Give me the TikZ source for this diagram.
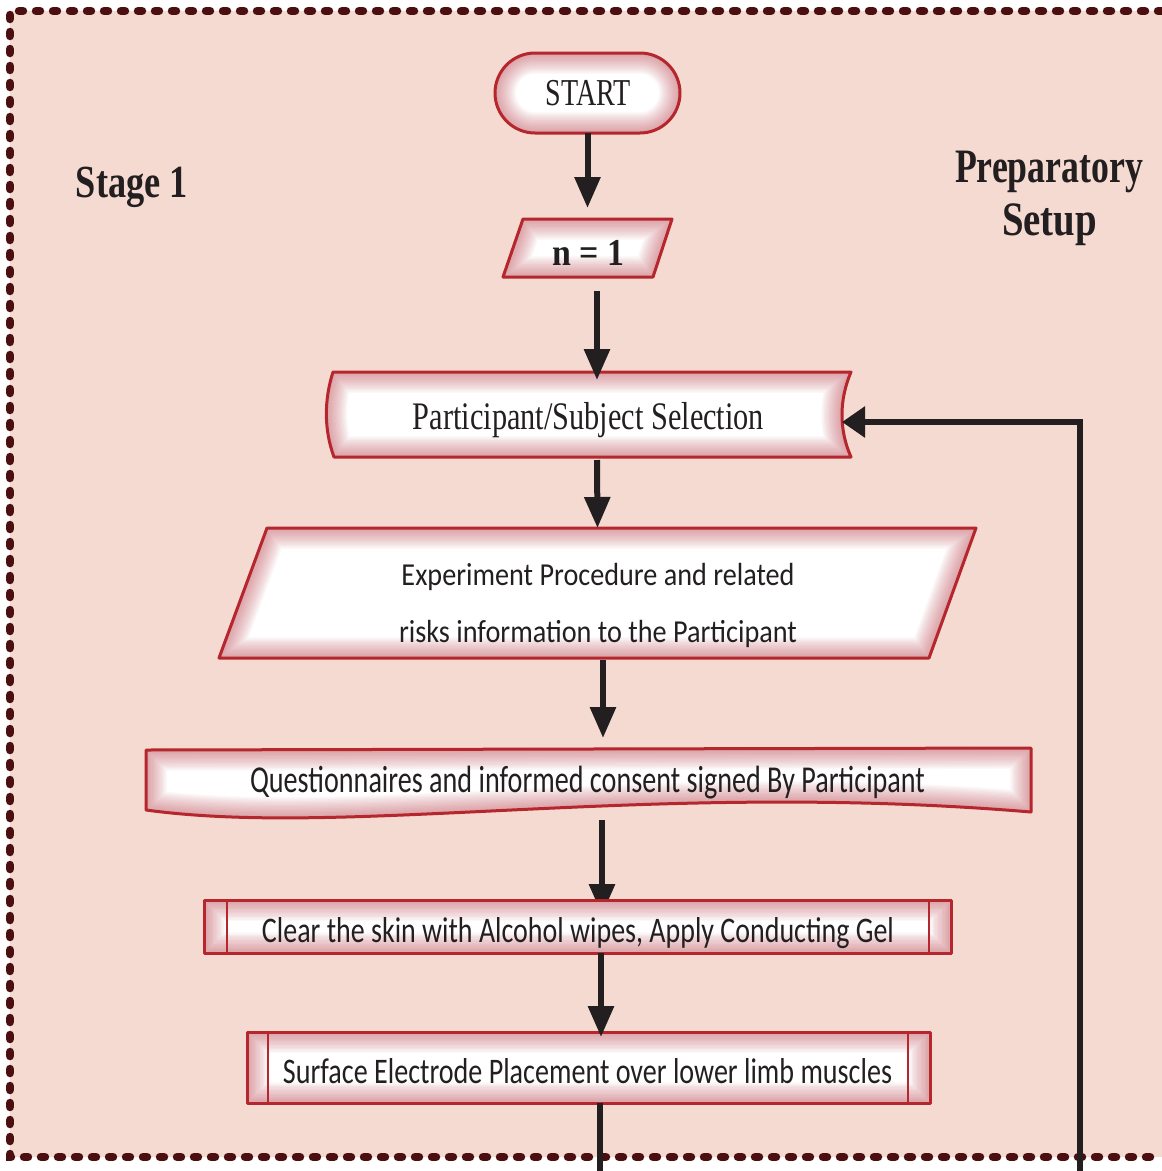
\documentclass[tikz,border=0pt]{standalone}
\usepackage{graphicx}
\usepackage{fontspec}
\setmainfont{Liberation Serif}
\newfontfamily\bodysans{Carlito}
\usetikzlibrary{arrows.meta}

\definecolor{pagepink}{RGB}{245,218,210}
\definecolor{framedot}{RGB}{75,15,16}
\definecolor{boxedge}{RGB}{181,38,45}
\definecolor{boxglow}{RGB}{198,86,96}
\definecolor{ink}{RGB}{35,31,32}

\pgfdeclarelayer{back}
\pgfdeclarelayer{under}
\pgfdeclarelayer{shapes}
\pgfsetlayers{back,under,shapes,main}

% white box with a soft reddish inner glow and a red outline
\newcommand\glowbox[1]{%
  \fill[white] #1;
  \begin{scope}
    \clip #1;
    \foreach \i in {1,...,16}
      {\draw[boxglow, line width=\i*2.6pt, opacity=0.042] #1;}
  \end{scope}
  \draw[boxedge, line width=3pt, line join=round] #1;
}
% set a label to a given width, keeping its height
\newcommand\fitw[2]{\resizebox{#1}{\height}{#2}}

\begin{document}
\begin{tikzpicture}[x=1pt,y=-1pt,
  slot/.style={draw=none, inner sep=0pt, outer sep=0pt},
  lbl/.style={inner sep=0pt, outer sep=0pt, text=ink, anchor=base},
  flow/.style={draw=ink, line width=6pt, -{Triangle[length=31pt,width=25pt]}},
  flowfb/.style={draw=ink, line width=6pt, -{Triangle[length=23pt,width=30pt]}},
  wire/.style={draw=ink, line width=6pt},
  divider/.style={draw=boxedge, line width=2.5pt}]

\useasboundingbox (0,0) rectangle (1162,1171);

% ---- shape slots (named, used by the connectors) ----
\node[slot, minimum width=185pt, minimum height=80pt]  (start) at (587.5,93) {};
\node[slot, minimum width=169pt, minimum height=58pt]  (n1)    at (587.5,248) {};
\node[slot, minimum width=525pt, minimum height=85pt]  (sel)   at (588.5,414.5) {};
\node[slot, minimum width=757pt, minimum height=130pt] (info)  at (597.5,593) {};
\node[slot, minimum width=885pt, minimum height=71pt]  (quest) at (588.5,783.5) {};
\node[slot, minimum width=747pt, minimum height=53pt]  (clean) at (577.5,926.5) {};
\node[slot, minimum width=683pt, minimum height=71pt]  (place) at (588.5,1067.5) {};
\coordinate (exit) at (599.5,1171);
\coordinate (loop) at (1080,1171);

% ---- page background and dotted frame ----
\begin{pgfonlayer}{back}
  \fill[white] (0,0) rectangle (1162,1171);
  \fill[pagepink] (10,11) rectangle (1162,1157);
  \draw[framedot, line width=8.5pt, line cap=round, dash pattern=on 4pt off 13pt]
    (1162,11) -- (10,11) -- (10,1157) -- (1162,1157);
\end{pgfonlayer}

% arrow that slips under the next box
\begin{pgfonlayer}{under}
  \draw[flow] ([xshift=13.5pt,yshift=-1pt]quest.south) -- ([xshift=24.5pt,yshift=-15pt]clean.north);
\end{pgfonlayer}

% ---- flowchart shapes ----
\begin{pgfonlayer}{shapes}
  \glowbox{[rounded corners=40pt] (start.north west) rectangle (start.south east)}
  \glowbox{(523,219) -- (672,219) -- (653,277) -- (503,277) -- cycle}
  \glowbox{(333,372) -- (851,372) .. controls (839,400) and (839,430) .. (851,457)
           -- (334,457) .. controls (324,430) and (324,400) .. (333,372) -- cycle}
  \glowbox{(267,528) -- (976,528) -- (929,658) -- (219,658) -- cycle}
  \glowbox{(146,750) -- (1031,748) -- (1031,812) .. controls (650,780) and (350,838) .. (146,810) -- cycle}
  \glowbox{(clean.north west) rectangle (clean.south east)}
  \draw[divider] ([xshift=23pt]clean.north west) -- ([xshift=23pt]clean.south west);
  \draw[divider] ([xshift=-22pt]clean.north east) -- ([xshift=-22pt]clean.south east);
  \glowbox{(place.north west) rectangle (place.south east)}
  \draw[divider] ([xshift=21pt]place.north west) -- ([xshift=21pt]place.south west);
  \draw[divider] ([xshift=-22pt]place.north east) -- ([xshift=-22pt]place.south east);
\end{pgfonlayer}

% ---- texts ----
\node[lbl] (stage) at (132,197)
  {\fontsize{46}{50}\selectfont\bfseries\fitw{112pt}{Stage 1}};
\node[lbl] (prep1) at (1049,182)
  {\fontsize{48}{52}\selectfont\bfseries\fitw{188pt}{Preparatory}};
\node[lbl] (prep2) at (1049.5,235)
  {\fontsize{48}{52}\selectfont\bfseries\fitw{95pt}{Setup}};

\node[lbl] (startt) at (588,105) {\fontsize{38}{40}\selectfont\fitw{85pt}{START}};
\node[lbl] (n1t) at (588.5,265) {\fontsize{38}{40}\selectfont\bfseries\fitw{72pt}{n = 1}};
\node[lbl] (selt) at (588.5,429)
  {\fontsize{39}{42}\selectfont\fitw{351pt}{Participant/Subject Selection}};
\node[lbl] (infot1) at (598,585)
  {\bodysans\fontsize{32}{34}\selectfont\fitw{393pt}{Experiment Procedure and related}};
\node[lbl] (infot2) at (598,642)
  {\bodysans\fontsize{32}{34}\selectfont\fitw{398pt}{risks information to the Participant}};
\node[lbl] (questt) at (587.5,792)
  {\bodysans\fontsize{38}{40}\selectfont\fitw{675pt}{Questionnaires and informed consent signed By Participant}};
\node[lbl] (cleant) at (578,942)
  {\bodysans\fontsize{36}{38}\selectfont\fitw{632pt}{Clear the skin with Alcohol wipes, Apply Conducting Gel}};
\node[lbl] (placet) at (587.5,1083)
  {\bodysans\fontsize{36}{38}\selectfont\fitw{609pt}{Surface Electrode Placement over lower limb muscles}};

% ---- connectors ----
\draw[flow] (start.south) -- ([yshift=11pt]n1.north);
\draw[flow] ([xshift=9.5pt,yshift=-14pt]n1.south) -- ([xshift=8.5pt,yshift=-8pt]sel.north);
\draw[flow] ([xshift=8.5pt,yshift=-3pt]sel.south) -- (info.north);
\draw[flow] ([xshift=5.5pt,yshift=-2pt]info.south) -- ([xshift=14.5pt,yshift=10pt]quest.north);
\draw[flow] ([xshift=23.5pt]clean.south) -- ([xshift=12.5pt,yshift=-5pt]place.north);
\draw[wire] ([xshift=11pt]place.south) -- (exit);
\draw[flowfb] (loop) |- ([xshift=-9pt,yshift=-7.5pt]sel.east);

\end{tikzpicture}
\end{document}
